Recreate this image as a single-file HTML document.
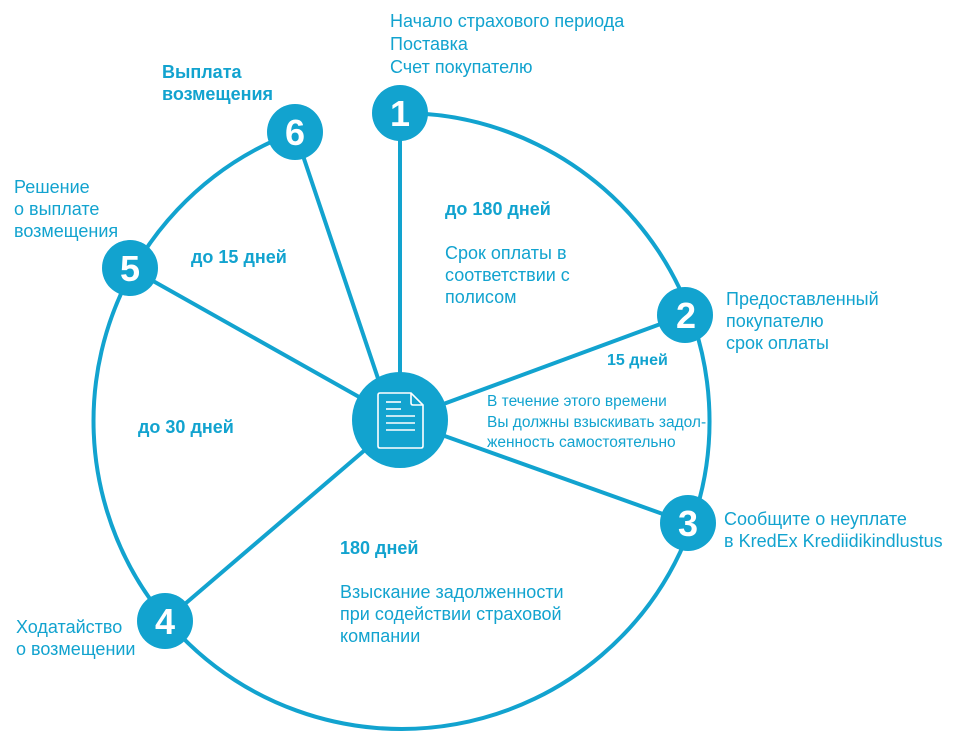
<!DOCTYPE html>
<html><head><meta charset="utf-8"><style>
html,body{margin:0;padding:0;background:#fff;}
svg{display:block}
text{font-family:"Liberation Sans",Arial,sans-serif;fill:#12a3cf;}
.b{font-weight:bold}
.n{font-weight:bold;fill:#fff;font-size:36px;text-anchor:middle}
</style></head><body>
<svg width="960" height="738" viewBox="0 0 960 738" xmlns="http://www.w3.org/2000/svg">
<g stroke="#12a3cf" stroke-width="4" fill="none">
<path d="M400 113 A308 308 0 1 1 295 132"/>
<line x1="400" y1="113" x2="400" y2="420"/>
<line x1="295" y1="132" x2="392" y2="420"/>
<line x1="130" y1="268" x2="400" y2="420"/>
<line x1="685" y1="315" x2="400" y2="420"/>
<line x1="688" y1="523" x2="400" y2="420"/>
<line x1="165" y1="621" x2="400" y2="420"/>
</g>
<g fill="#12a3cf">
<circle cx="400" cy="420" r="48"/>
<circle cx="400" cy="113" r="28"/>
<circle cx="685" cy="315" r="28"/>
<circle cx="688" cy="523" r="28"/>
<circle cx="165" cy="621" r="28"/>
<circle cx="130" cy="268" r="28"/>
<circle cx="295" cy="132" r="28"/>
</g>
<g stroke="#fff" stroke-width="1.6" fill="none">
<path d="M380 393 H411 L423 405 V446 Q423 448 421 448 H380 Q378 448 378 446 V395 Q378 393 380 393 Z"/>
<path d="M411 393 V403 Q411 405 413 405 H423"/>
<line x1="386" y1="402" x2="401" y2="402"/>
<line x1="386" y1="409" x2="401" y2="409"/>
<line x1="386" y1="416" x2="415" y2="416"/>
<line x1="386" y1="423" x2="415" y2="423"/>
<line x1="386" y1="430" x2="415" y2="430"/>
</g>
<text class="n" x="400" y="126">1</text>
<text class="n" x="686" y="328">2</text>
<text class="n" x="688" y="536">3</text>
<text class="n" x="165" y="634">4</text>
<text class="n" x="130" y="281">5</text>
<text class="n" x="295" y="145">6</text>
<g font-size="18">
<text x="390" y="27">Начало страхового периода</text>
<text x="390" y="50">Поставка</text>
<text x="390" y="73">Счет покупателю</text>
<text x="445" y="259">Срок оплаты в</text>
<text x="445" y="281">соответствии с</text>
<text x="445" y="303">полисом</text>
<text x="726" y="305">Предоставленный</text>
<text x="726" y="327">покупателю</text>
<text x="726" y="349">срок оплаты</text>
<text x="724" y="525">Сообщите о неуплате</text>
<text x="724" y="547">в KredEx Krediidikindlustus</text>
<text x="14" y="193">Решение</text>
<text x="14" y="215">о выплате</text>
<text x="14" y="237">возмещения</text>
<text x="16" y="633">Ходатайство</text>
<text x="16" y="655">о возмещении</text>
<text x="340" y="598">Взыскание задолженности</text>
<text x="340" y="620">при содействии страховой</text>
<text x="340" y="642">компании</text>
</g>
<g font-size="15.5">
<text x="487" y="406">В течение этого времени</text>
<text x="487" y="427">Вы должны взыскивать задол-</text>
<text x="487" y="447">женность самостоятельно</text>
</g>
<g class="b" font-size="18">
<text x="162" y="78">Выплата</text>
<text x="162" y="100">возмещения</text>
<text x="445" y="215">до 180 дней</text>
<text x="191" y="263">до 15 дней</text>
<text x="138" y="433">до 30 дней</text>
<text x="340" y="554">180 дней</text>
</g>
<text class="b" font-size="16" x="607" y="365">15 дней</text>
</svg>
</body></html>
